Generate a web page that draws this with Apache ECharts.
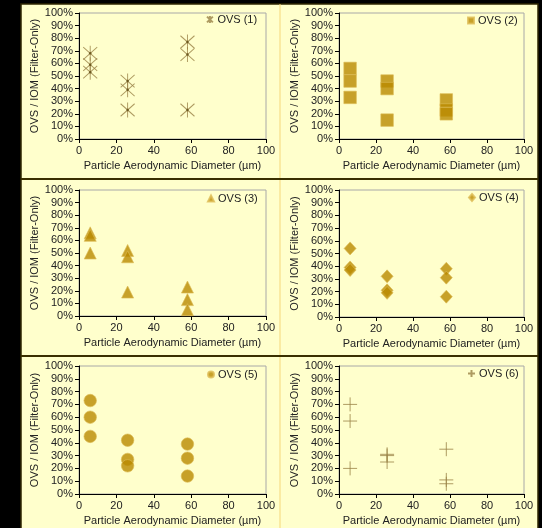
<!DOCTYPE html>
<html>
<head>
<meta charset="utf-8">
<script src="https://cdn.jsdelivr.net/npm/echarts@6/dist/echarts.min.js"></script>
<style>html,body{margin:0;padding:0;background:#000;}#c{width:542px;height:528px;}</style>
</head>
<body>
<div id="c"></div>
<script>
// Particle aerodynamic diameter (µm) of each sample
const diameters = [6, 6, 6, 26, 26, 26, 58, 58, 58];
// OVS / IOM ratio (%) for each sampler
const ovs1 = [68, 59, 53, 46, 39, 23, 77, 67, 23];
const ovs2 = [56, 46, 33, 46, 40, 15, 31, 23, 20];
const ovs3 = [66, 64, 50, 52, 47, 19, 23, 13, 5];
const ovs4 = [54, 39, 37, 32, 21, 19, 38, 31, 16];
const ovs5 = [73, 60, 45, 42, 27, 22, 39, 28, 14];
const ovs6 = [70, 57, 20, 31, 30, 25, 35, 11, 8];
const seriesNames = ['OVS (1)', 'OVS (2)', 'OVS (3)', 'OVS (4)', 'OVS (5)', 'OVS (6)'];
const xTicks = [0, 20, 40, 60, 80, 100];
const yTicks = [0, 10, 20, 30, 40, 50, 60, 70, 80, 90, 100];

const allValues = [ovs1, ovs2, ovs3, ovs4, ovs5, ovs6];
const FONT = 'Liberation Sans, Arial, sans-serif';
const GOLD = '#B98A00';
const GOLD_BORDER = '#DDBB55';
const LINE_BROWN = '#9A8246';

const grids = [
  {left: 79, top: 13, width: 187, height: 126},
  {left: 339, top: 13, width: 185, height: 126},
  {left: 79, top: 190, width: 187, height: 126},
  {left: 339, top: 190, width: 185, height: 127},
  {left: 79, top: 366, width: 187, height: 128},
  {left: 339, top: 366, width: 185, height: 128}
];
const legendPos = [
  {left: 206, top: 14}, {left: 467, top: 15},
  {left: 207, top: 193}, {left: 468, top: 192},
  {left: 207, top: 369}, {left: 467, top: 368}
];
const symbols = [
  {symbol: 'path://M0,0L10,10M10,0L0,10M5,-1L5,11', size: [14, 15], line: true, legendSize: [7, 7]},
  {symbol: 'rect', size: 12.5, line: false, legendSize: [6, 6]},
  {symbol: 'triangle', size: [12, 12], line: false, legendSize: [6, 6]},
  {symbol: 'diamond', size: [12, 13], line: false, legendSize: [6, 7]},
  {symbol: 'circle', size: 12.5, line: false, legendSize: [6, 6]},
  {symbol: 'path://M0,5L10,5M5,0L5,10', size: [14, 14], line: true, legendSize: [7, 7]}
];

function pts(vals) { return vals.map((v, i) => [diameters[i], v]); }

const xAxes = [], yAxes = [], series = [], legends = [];
grids.forEach((g, i) => {
  g.show = true;
  g.borderColor = '#A8A8A8';
  g.borderWidth = 1;
  g.backgroundColor = 'transparent';
  xAxes.push({
    gridIndex: i, type: 'value', min: xTicks[0], max: xTicks[xTicks.length - 1], interval: xTicks[1] - xTicks[0],
    axisLine: {show: true, onZero: false, lineStyle: {color: '#000', width: 1}},
    axisTick: {show: true, length: 4, lineStyle: {color: '#000'}},
    splitLine: {show: false},
    axisLabel: {color: '#222', fontSize: 11, fontFamily: FONT, margin: 6},
    name: 'Particle Aerodynamic Diameter (µm)', nameLocation: 'middle', nameGap: 21,
    nameTextStyle: {color: '#222', fontSize: 11, fontFamily: FONT}
  });
  yAxes.push({
    gridIndex: i, type: 'value', min: yTicks[0], max: yTicks[yTicks.length - 1], interval: yTicks[1] - yTicks[0],
    axisLine: {show: true, onZero: false, lineStyle: {color: '#000', width: 1}},
    axisTick: {show: true, length: 4, lineStyle: {color: '#000'}},
    splitLine: {show: false},
    axisLabel: {color: '#222', fontSize: 11, fontFamily: FONT, margin: 6, formatter: '{value}%'},
    name: 'OVS / IOM (Filter-Only)', nameLocation: 'middle', nameGap: 39,
    nameTextStyle: {color: '#222', fontSize: 11, fontFamily: FONT}
  });
  const s = symbols[i];
  series.push({
    name: seriesNames[i], type: 'scatter', xAxisIndex: i, yAxisIndex: i,
    data: pts(allValues[i]), symbol: s.symbol, symbolSize: s.size,
    itemStyle: s.line
      ? {color: 'rgba(0,0,0,0)', borderColor: LINE_BROWN, borderWidth: 1}
      : {color: GOLD, borderColor: GOLD_BORDER, borderWidth: 0.8},
    emphasis: {disabled: true}, z: 3
  });
  if (i === 0) {
    series.push({
      type: 'scatter', xAxisIndex: i, yAxisIndex: i,
      data: pts(allValues[i]), symbol: 'circle', symbolSize: 2.5,
      itemStyle: {color: '#5C4A10'}, emphasis: {disabled: true}, z: 4
    });
  }
  legends.push({
    data: [seriesNames[i]], left: legendPos[i].left, top: legendPos[i].top,
    padding: 0, itemWidth: s.legendSize[0], itemHeight: s.legendSize[1], itemGap: 0,
    selectedMode: false,
    textStyle: {color: '#222', fontSize: 11, fontFamily: FONT, padding: [0, 0, 0, -1]}
  });
});

const chart = echarts.init(document.getElementById('c'), null, {renderer: 'canvas'});
chart.setOption({
  backgroundColor: '#000',
  animation: false,
  graphic: {elements: [
    {type: 'rect', z: -100, shape: {x: 21, y: 4, width: 517, height: 526}, style: {fill: '#FFFFCC', stroke: '#2E2600', lineWidth: 1.5}},
    {type: 'line', z: -99, shape: {x1: 280, y1: 4, x2: 280, y2: 528}, style: {stroke: '#F5D77A', lineWidth: 1}},
    {type: 'line', z: -98, shape: {x1: 21, y1: 179, x2: 538, y2: 179}, style: {stroke: '#3A2F00', lineWidth: 2}},
    {type: 'line', z: -98, shape: {x1: 21, y1: 356, x2: 538, y2: 356}, style: {stroke: '#3A2F00', lineWidth: 2}}
  ]},
  grid: grids, xAxis: xAxes, yAxis: yAxes, legend: legends, series: series
});
</script>
</body>
</html>
